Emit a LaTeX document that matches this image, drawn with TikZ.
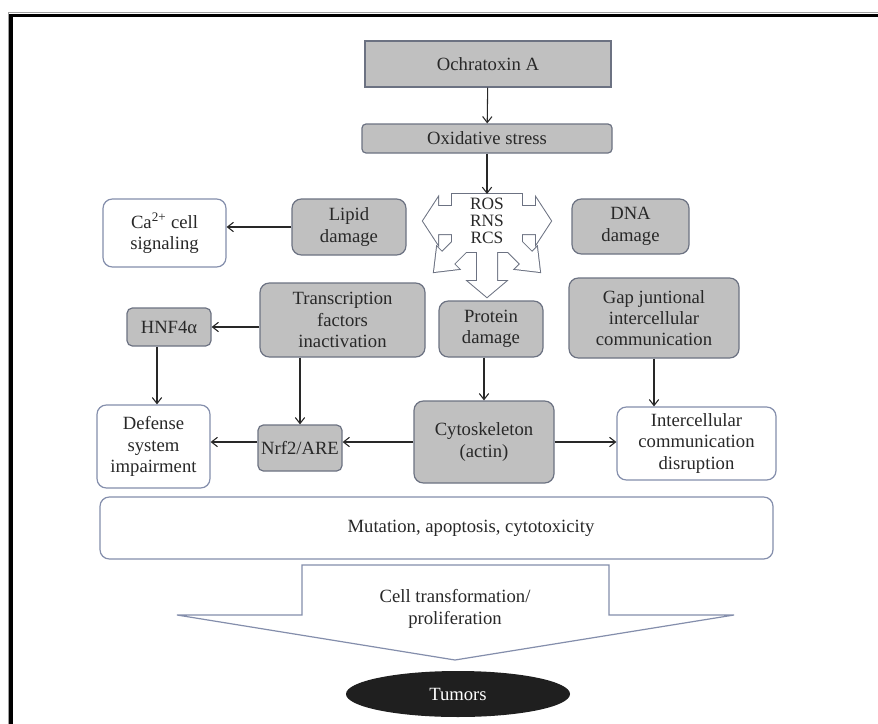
\documentclass[tikz,border=0pt]{standalone}
\usepackage{fontspec}
\setmainfont{Liberation Serif}
\usetikzlibrary{arrows.meta,shapes.geometric}
\definecolor{boxgray}{RGB}{192,192,192}
\definecolor{edgegray}{RGB}{108,114,130}
\definecolor{edgeblue}{RGB}{132,142,172}
\definecolor{txt}{RGB}{40,40,40}
\newcommand{\rospaths}[1]{%
  \path[#1] (452,194) rectangle (522,252);
  \path[#1] (456,206) -- (438,206) -- (438,198) -- (423,221) -- (438,244) -- (438,234) -- (456,234) -- cycle;
  \path[#1] (518,206) -- (536,206) -- (536,198) -- (551,221) -- (536,244) -- (536,234) -- (518,234) -- cycle;
  \path[#1] (477,248) -- (477,281) -- (468,281) -- (487,297) -- (506,281) -- (497,281) -- (497,248) -- cycle;
  \path[#1] (463,231) -- (442,252) -- (437,247) -- (434,272) -- (459,269) -- (454,264) -- (475,243) -- cycle;
  \path[#1] (511,231) -- (532,252) -- (537,247) -- (540,272) -- (515,269) -- (520,264) -- (499,243) -- cycle;
}
\begin{document}
\begin{tikzpicture}[x=0.75pt,y=-0.75pt,
  font=\fontsize{14}{16}\selectfont,
  every node/.style={text=txt, inner sep=0pt, align=center},
  gbox/.style={draw=edgegray, fill=boxgray, line width=0.9pt, rounded corners=7pt},
  wbox/.style={draw=edgeblue, fill=white, line width=0.9pt, rounded corners=7pt},
  conn/.style={draw=txt, line width=0.8pt, -{Straight Barb[length=4.5pt,width=7pt]}}]
\useasboundingbox (0,0) rectangle (878,724);
\fill[white] (0,0) rectangle (878,724);
% frame
\draw[gray!75, line width=1.2pt] (8.5,740) -- (8.5,12.5) -- (900,12.5);
\draw[black, line width=2.4pt] (11,740) -- (11,15.5) -- (900,15.5);

% nodes
\node[gbox, rounded corners=0pt, minimum width=184.5pt, minimum height=34.5pt] (ochra) at (488,64) {Ochratoxin A};
\node[gbox, rounded corners=3pt, minimum width=187.5pt, minimum height=21.75pt] (oxid) at (487,138.5) {Oxidative stress};
\node[wbox, minimum width=92.25pt, minimum height=51pt] (ca) at (164.5,233) {Ca\textsuperscript{2+} cell\\signaling};
\node[gbox, minimum width=85.5pt, minimum height=42pt] (lipid) at (349,227) {Lipid\\damage};
\node[gbox, minimum width=87.75pt, minimum height=41.25pt] (dna) at (630.5,226.5) {DNA\\damage};
\node[gbox, rounded corners=4pt, minimum width=63pt, minimum height=28.5pt] (hnf) at (169,327) {HNF4α};
\node[gbox, minimum width=123.75pt, minimum height=55.5pt] (trans) at (342.5,320) {Transcription\\factors\\inactivation};
\node[gbox, minimum width=78pt, minimum height=42pt] (prot) at (491,329) {Protein\\damage};
\node[gbox, minimum width=127.5pt, minimum height=60pt] (gap) at (654,318) {Gap juntional\\intercellular\\communication};
\node[wbox, minimum width=84.75pt, minimum height=62.25pt] (def) at (153.5,446.5) {Defense\\system\\impairment};
\node[gbox, rounded corners=4pt, minimum width=63pt, minimum height=34.5pt] (nrf) at (300,448) {Nrf2/ARE};
\node[gbox, minimum width=105pt, minimum height=61.5pt] (cyto) at (484,442) {Cytoskeleton\\(actin)};
\node[wbox, minimum width=119.25pt, minimum height=54.75pt] (inter) at (696.5,443.5) {Intercellular\\communication\\disruption};
\node[wbox, minimum width=504.75pt, minimum height=46.5pt] (mut) at (436.5,528) {};
\node (mutlab) at (471,528) {Mutation, apoptosis, cytotoxicity};

% ROS / RNS / RCS multi-arrow
\rospaths{draw=edgegray, line width=1.5pt, line join=miter}
\rospaths{fill=white}
\coordinate (ros) at (487,194);
\node[font=\fontsize{13}{12.5}\selectfont] (roslab) at (487,221) {ROS\\RNS\\RCS};

% big arrow
\draw[draw=edgeblue, fill=white, line width=0.9pt] (302,565) -- (609,565) -- (609,615) -- (734,615) -- (455,660) -- (177,615) -- (302,615) -- cycle;
\node (cell) at (455,609) {Cell transformation/\\proliferation};
\node[ellipse, fill=black!88, minimum width=168pt, minimum height=34.5pt, text=white] (tum) at (458,694) {Tumors};

% connectors
\draw[conn] (ochra) -- (oxid);
\draw[conn] (oxid) -- (ros);
\draw[conn] (lipid.west) -- (lipid.west -| ca.east);
\draw[conn] (trans.west |- hnf.east) -- (hnf.east);
\draw[conn] ([xshift=-9pt]hnf.south) -- ([xshift=-9pt]hnf.south |- def.north);
\draw[conn] (trans.south -| nrf.north) -- (nrf.north);
\draw[conn] (prot.south -| cyto.north) -- (cyto.north);
\draw[conn] (gap.south) -- (gap.south |- inter.north);
\draw[conn] (cyto.west) -- (cyto.west -| nrf.east);
\draw[conn] (cyto.west -| nrf.west) -- (cyto.west -| def.east);
\draw[conn] (cyto.east) -- (cyto.east -| inter.west);
\end{tikzpicture}
\end{document}
